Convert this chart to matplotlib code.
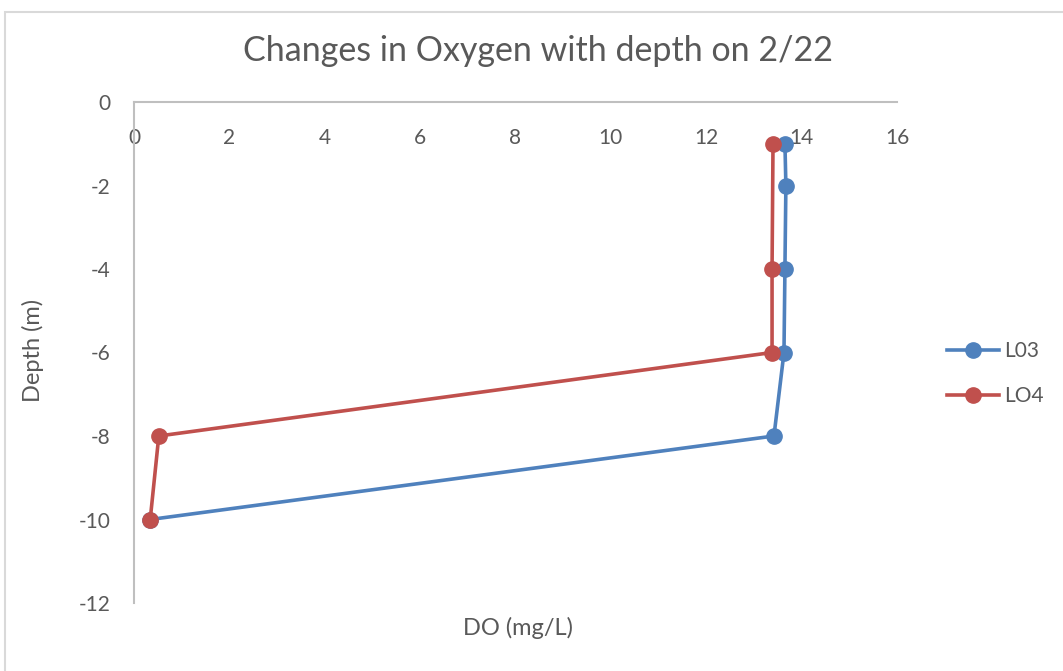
import matplotlib
matplotlib.use("Agg")
import matplotlib.pyplot as plt
from matplotlib.patches import Rectangle
from matplotlib.lines import Line2D

plt.rcParams['font.family'] = ['Lato', 'DejaVu Sans']

# Dissolved oxygen profiles (mg/L) by depth (m)
depth_l03 = [-1, -2, -4, -6, -8, -10]
do_l03 = [13.65, 13.67, 13.65, 13.63, 13.42, 0.34]

depth_lo4 = [-1, -4, -6, -8, -10]
do_lo4 = [13.40, 13.38, 13.38, 0.52, 0.34]

series_names = ["L03", "LO4"]
x_ticks = [0, 2, 4, 6, 8, 10, 12, 14, 16]
y_ticks = [0, -2, -4, -6, -8, -10, -12]

W, H = 1063, 671
fig = plt.figure(figsize=(W / 100, H / 100), dpi=100)
fig.patch.set_facecolor("white")

# Chart area border
fig.patches.append(Rectangle((5 / W, -0.05), 1.2, 1 - 12 / H + 0.05,
                             transform=fig.transFigure, fill=False,
                             edgecolor="#D9D9D9", linewidth=1.5, zorder=0))

ax = fig.add_axes([134 / W, 1 - 603 / H, (897 - 134) / W, (603 - 102) / H])
ax.set_xlim(0, 16)
ax.set_ylim(-12, 0)

gray = "#595959"
axis_col = "#BFBFBF"
blue = "#4F81BD"
red = "#C0504D"

ax.plot(do_l03, depth_l03, color=blue, lw=2.6, marker="o", ms=11,
        label=series_names[0], clip_on=False, zorder=3)
ax.plot(do_lo4, depth_lo4, color=red, lw=2.6, marker="o", ms=11,
        label=series_names[1], clip_on=False, zorder=4)

for side in ("right", "bottom"):
    ax.spines[side].set_visible(False)
for side in ("left", "top"):
    ax.spines[side].set_color(axis_col)
    ax.spines[side].set_linewidth(1.5)

ax.set_xticks(x_ticks)
ax.set_xticklabels([str(v) for v in x_ticks])
ax.set_yticks(y_ticks)
ax.set_yticklabels([str(v) for v in y_ticks])
ax.tick_params(axis="x", top=False, bottom=False, labeltop=True,
               labelbottom=False, length=0, pad=-33, labelsize=15,
               labelcolor=gray)
ax.tick_params(axis="y", left=False, length=0, pad=17, labelsize=15,
               labelcolor=gray)

fig.text(538 / W, 1 - 51 / H, "Changes in Oxygen with depth on 2/22",
         ha="center", va="center", fontsize=24.5, color=gray)
fig.text(33 / W, 1 - 350 / H, "Depth (m)", ha="center", va="center",
         rotation=90, fontsize=17, color=gray)
fig.text(518 / W, 1 - 628 / H, "DO (mg/L)", ha="center", va="center",
         fontsize=17, color=gray)

handles = [Line2D([0], [0], color=blue, lw=2.6, marker="o", ms=11),
           Line2D([0], [0], color=red, lw=2.6, marker="o", ms=11)]
fig.legend(handles, series_names, loc="center left",
           bbox_to_anchor=(947 / W, 1 - 374 / H), frameon=False,
           fontsize=15, labelcolor=gray, handlelength=2.5,
           handletextpad=0.25, labelspacing=1.2, borderaxespad=0,
           borderpad=0)

fig.savefig("out.png", dpi=100)
